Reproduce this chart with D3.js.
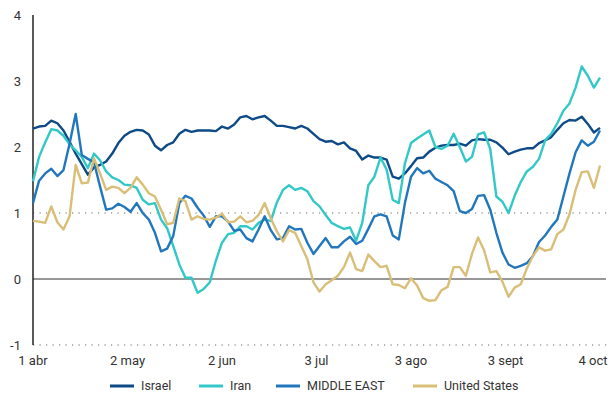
<!DOCTYPE html>
<html>
<head>
<meta charset="utf-8">
<script src="https://d3js.org/d3.v7.min.js"></script>
<style>
  body { margin: 0; background: #fff; }
  text { font-family: Roboto, "Noto Sans", sans-serif; fill: #333; }
</style>
</head>
<body>
<svg width="615" height="394"></svg>
<script>
// data: values every 2 days from 1 abr (day 0) to 4 oct (day 186)
var startDate = "2024-04-01";
var dayOffsets = d3.range(0, 187, 2);

var israel = [
  2.28,2.31,2.32,2.40,2.36,2.25,2.08,1.90,1.74,1.58,
  1.69,1.73,1.78,1.90,2.06,2.17,2.23,2.26,2.25,2.19,
  2.02,1.95,2.03,2.07,2.20,2.26,2.23,2.25,2.25,2.25,
  2.24,2.31,2.28,2.34,2.45,2.47,2.42,2.45,2.47,2.40,
  2.32,2.32,2.30,2.28,2.32,2.28,2.20,2.12,2.08,2.09,
  2.04,2.07,1.98,1.94,1.81,1.87,1.84,1.84,1.81,1.55,
  1.52,1.60,1.71,1.83,1.84,1.93,1.99,2.02,2.03,2.03,
  2.05,2.02,2.10,2.12,2.11,2.11,2.07,1.99,1.89,1.93,
  1.96,1.98,1.98,2.06,2.10,2.15,2.26,2.36,2.41,2.40,
  2.46,2.35,2.22,2.29];

var iran = [
  1.48,1.85,2.07,2.27,2.25,2.17,2.04,1.95,1.85,1.68,
  1.90,1.80,1.63,1.54,1.50,1.43,1.42,1.38,1.20,1.13,
  1.15,0.90,0.77,0.50,0.22,0.02,0.02,-0.21,-0.15,-0.05,
  0.28,0.55,0.68,0.70,0.80,0.80,0.75,0.85,0.90,0.88,
  1.16,1.35,1.42,1.35,1.38,1.33,1.18,1.10,0.97,0.85,
  0.80,0.76,0.78,0.58,0.85,1.42,1.55,1.84,1.66,1.20,
  1.15,1.75,2.06,2.13,2.19,2.25,2.00,1.97,2.02,2.20,
  2.00,1.78,1.85,2.19,2.22,1.97,1.25,1.17,1.00,1.26,
  1.47,1.63,1.70,1.82,2.10,2.20,2.36,2.55,2.66,2.90,
  3.22,3.08,2.90,3.05];

var middleEast = [
  1.15,1.49,1.60,1.67,1.56,1.65,2.05,2.50,1.88,1.82,
  1.77,1.40,1.05,1.07,1.14,1.09,1.02,1.15,1.00,0.90,
  0.70,0.42,0.46,0.65,1.15,1.26,1.22,1.08,0.96,0.79,
  0.95,0.95,0.87,0.73,0.75,0.62,0.57,0.75,0.95,0.74,
  0.60,0.62,0.80,0.75,0.76,0.55,0.38,0.50,0.62,0.48,
  0.48,0.57,0.64,0.53,0.58,0.76,0.95,0.98,0.95,0.66,
  0.60,1.15,1.55,1.68,1.60,1.64,1.52,1.47,1.42,1.33,
  1.03,1.00,1.06,1.26,1.27,1.05,0.70,0.40,0.22,0.17,
  0.20,0.24,0.35,0.56,0.66,0.79,0.90,1.25,1.60,1.92,
  2.10,2.02,2.08,2.25];

var unitedStates = [
  0.88,0.87,0.85,1.10,0.86,0.75,0.95,1.73,1.45,1.46,
  1.83,1.60,1.35,1.40,1.38,1.30,1.38,1.54,1.43,1.30,
  1.25,1.05,0.83,0.85,1.22,1.18,0.90,0.95,0.91,0.90,
  0.93,0.99,0.86,0.87,0.95,0.86,0.88,0.97,1.15,0.92,
  0.72,0.57,0.74,0.70,0.50,0.30,-0.05,-0.19,-0.08,-0.02,
  0.05,0.18,0.40,0.15,0.12,0.37,0.27,0.18,0.20,-0.08,
  -0.09,-0.14,0.01,-0.10,-0.29,-0.33,-0.32,-0.17,-0.12,0.18,
  0.18,0.05,0.38,0.63,0.43,0.10,0.12,-0.04,-0.27,-0.13,
  -0.08,0.16,0.35,0.48,0.43,0.45,0.68,0.75,0.98,1.35,
  1.62,1.63,1.38,1.72];

var seriesNames = ["Israel", "Iran", "MIDDLE EAST", "United States"];
var seriesColors = ["#0d4a87", "#33c8c8", "#2277bc", "#d9be78"];

var tickDates = ["2024-04-01","2024-05-02","2024-06-02","2024-07-03","2024-08-03","2024-09-03","2024-10-04"];
var tickLabels = ["1 abr","2 may","2 jun","3 jul","3 ago","3 sept","4 oct"];
var yTicks = [-1, 0, 1, 2, 3, 4];

var svg = d3.select("svg"),
  width = +svg.attr("width"),
  height = +svg.attr("height");

var parse = d3.utcParse("%Y-%m-%d");
var start = parse(startDate);
var dates = dayOffsets.map(function(d) { return d3.utcDay.offset(start, d); });

var xscale = d3.scaleUtc()
  .domain([parse(tickDates[0]), parse(tickDates[tickDates.length - 1])])
  .range([33, 600]);

var yscale = d3.scaleLinear()
  .domain([-1, 4])
  .range([345, 15]);

// dotted gridlines at 1 and -1
svg.append("g").selectAll("line")
  .data([1, -1]).enter().append("line")
  .attr("x1", 33).attr("x2", 610)
  .attr("y1", function(d) { return yscale(d); })
  .attr("y2", function(d) { return yscale(d); })
  .attr("stroke", "#666")
  .attr("stroke-width", 1.2)
  .attr("stroke-dasharray", "1.2,5.3");

// zero line
svg.append("line")
  .attr("x1", 33).attr("x2", 606)
  .attr("y1", yscale(0)).attr("y2", yscale(0))
  .attr("stroke", "#333")
  .attr("stroke-width", 1.2);

// y axis line
svg.append("line")
  .attr("x1", 33).attr("x2", 33)
  .attr("y1", yscale(4)).attr("y2", yscale(-1))
  .attr("stroke", "#222")
  .attr("stroke-width", 1.5);

// y labels
svg.append("g").selectAll("text")
  .data(yTicks).enter().append("text")
  .attr("x", 21)
  .attr("y", function(d) { return yscale(d); })
  .attr("dy", "0.35em")
  .attr("text-anchor", "end")
  .style("font-size", "13px")
  .text(function(d) { return d; });

// x labels
svg.append("g").selectAll("text")
  .data(tickDates).enter().append("text")
  .attr("x", function(d, i) { return xscale(parse(d)) - (i == tickDates.length - 1 ? 7 : 0); })
  .attr("y", 365)
  .attr("text-anchor", "middle")
  .style("font-size", "13px")
  .text(function(d, i) { return tickLabels[i]; });

// lines
var allSeries = [israel, iran, middleEast, unitedStates];
var line = d3.line()
  .x(function(d, i) { return xscale(dates[i]); })
  .y(function(d) { return yscale(d); });

svg.append("g").selectAll("path")
  .data(allSeries).enter().append("path")
  .attr("d", line)
  .attr("fill", "none")
  .attr("stroke", function(d, i) { return seriesColors[i]; })
  .attr("stroke-width", 2.4)
  .attr("stroke-linejoin", "round");

// legend
var legendX = [110, 199, 276, 413];
var legend = svg.append("g").selectAll("g")
  .data(seriesNames).enter().append("g")
  .attr("transform", function(d, i) { return "translate(" + legendX[i] + ",386)"; });

legend.append("line")
  .attr("x1", 0).attr("x2", 24)
  .attr("y1", 0).attr("y2", 0)
  .attr("stroke", function(d, i) { return seriesColors[i]; })
  .attr("stroke-width", 3);

legend.append("text")
  .attr("x", 31)
  .attr("y", 0)
  .attr("dy", "0.35em")
  .style("font-size", "12.5px")
  .text(function(d) { return d; });
</script>
</body>
</html>
